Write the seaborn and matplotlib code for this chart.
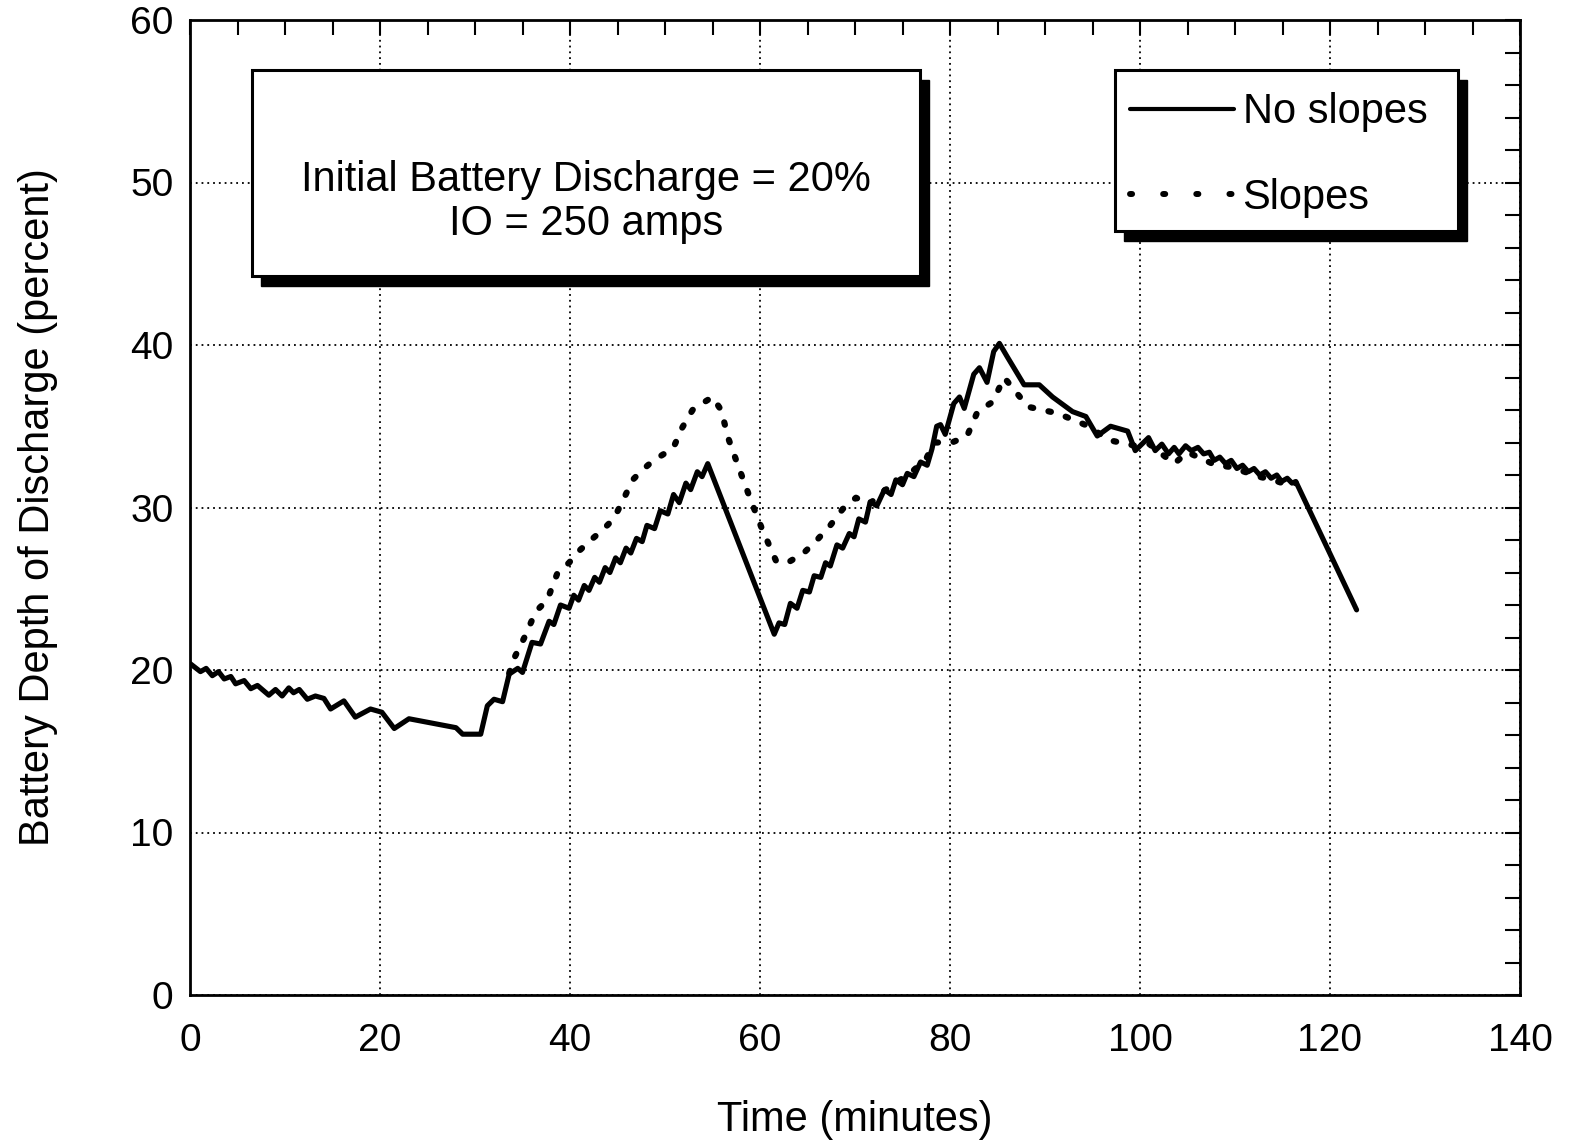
import numpy as np
import pandas as pd
import matplotlib
matplotlib.use("Agg")
import matplotlib.pyplot as plt
import seaborn as sns
from matplotlib.patches import Rectangle
from matplotlib.ticker import MultipleLocator
from matplotlib.lines import Line2D

# ---------------- data ----------------
no_slopes_t = [0.0, 1.1, 1.7, 2.35, 3.0, 3.6, 4.3, 4.8, 5.7, 6.4, 7.1, 8.3, 9.0, 9.7,
               10.4, 10.9, 11.5, 12.35, 13.2, 14.1, 14.8, 16.2, 17.4, 19.0, 20.2, 21.5,
               23.05, 28.0, 28.7, 30.6, 31.3, 32.0, 32.9, 33.6, 34.5, 35.0, 36.0, 36.9,
               37.8, 38.3, 39.0, 39.9, 40.4, 40.9, 41.5, 42.0, 42.6, 43.1, 43.7, 44.2,
               44.8, 45.3, 45.9, 46.4, 47.0, 47.6, 48.1, 48.9, 49.5, 50.3, 50.9, 51.5,
               52.2, 52.7, 53.4, 53.9, 54.5, 61.5, 62.0, 62.6, 63.2, 63.9, 64.5, 65.2,
               65.7, 66.4, 66.9, 67.4, 68.1, 68.7, 69.4, 69.9, 70.4, 71.1, 71.6, 72.3,
               73.1, 73.8, 74.3, 75.0, 75.5, 76.2, 76.9, 77.6, 78.1, 78.6, 79.0, 79.5,
               80.4, 81.0, 81.5, 82.5, 83.1, 83.9, 84.6, 85.2, 86.0, 87.8, 89.4, 90.8,
               92.9, 94.3, 94.6, 95.5, 96.9, 98.7, 99.5, 100.9, 101.6, 102.3, 103.0,
               103.6, 104.1, 104.8, 105.4, 106.1, 106.7, 107.3, 107.8, 108.4, 109.0,
               109.6, 110.2, 110.8, 111.4, 112.0, 112.6, 113.2, 113.8, 114.4, 114.9,
               115.5, 116.0, 116.4, 122.8]
no_slopes_v = [20.4, 19.9, 20.1, 19.65, 19.9, 19.45, 19.6, 19.15, 19.35, 18.85, 19.05,
               18.45, 18.8, 18.4, 18.9, 18.6, 18.8, 18.2, 18.4, 18.25, 17.6, 18.1, 17.1,
               17.6, 17.4, 16.4, 17.0, 16.45, 16.05, 16.05, 17.8, 18.2, 18.05, 19.75,
               20.1, 19.85, 21.7, 21.6, 23.0, 22.8, 24.0, 23.8, 24.6, 24.3, 25.2, 24.9,
               25.7, 25.4, 26.3, 26.0, 26.9, 26.6, 27.5, 27.2, 28.1, 27.9, 28.9, 28.7,
               29.8, 29.6, 30.8, 30.3, 31.5, 31.1, 32.2, 31.9, 32.7, 22.2, 22.9, 22.8,
               24.1, 23.8, 24.9, 24.8, 25.8, 25.7, 26.6, 26.4, 27.7, 27.5, 28.4, 28.2,
               29.3, 29.1, 30.35, 30.1, 31.1, 30.8, 31.7, 31.4, 32.1, 31.9, 32.8, 32.6,
               33.6, 35.0, 35.1, 34.5, 36.4, 36.8, 36.1, 38.2, 38.6, 37.7, 39.6, 40.1,
               39.3, 37.55, 37.55, 36.8, 35.9, 35.6, 35.3, 34.4, 35.0, 34.7, 33.5, 34.3,
               33.5, 33.9, 33.3, 33.7, 33.3, 33.8, 33.5, 33.7, 33.3, 33.4, 32.9, 33.1,
               32.7, 32.9, 32.4, 32.6, 32.2, 32.4, 32.0, 32.2, 31.8, 32.0, 31.6, 31.8,
               31.5, 31.6, 23.7]

slopes_t = [33.6, 34.1, 35.2, 36.4, 37.6, 38.7, 39.9, 40.9, 42.2, 43.4, 44.6, 45.5,
            46.6, 47.6, 48.8, 49.9, 50.9, 51.8, 52.9, 53.9, 55.0, 55.9, 56.7, 57.8,
            59.0, 60.2, 61.7, 62.9, 64.6, 66.0, 67.4, 68.7, 70.1, 71.5, 73.0, 74.5,
            76.0, 77.5, 78.3, 80.2, 81.8, 82.9, 84.5, 85.7, 88.2, 91.3, 94.6, 96.7,
            99.5, 101.0, 102.5, 103.6, 105.0, 106.5, 108.0, 109.5, 111.0, 112.5,
            114.0, 115.5, 116.4]
slopes_v = [19.8, 20.7, 22.0, 23.6, 24.3, 26.0, 26.6, 27.3, 28.0, 28.6, 29.3, 30.35,
            31.7, 32.3, 32.9, 33.3, 33.7, 34.9, 36.0, 36.4, 36.8, 36.0, 34.2, 32.4,
            30.5, 28.7, 26.7, 26.6, 27.2, 28.0, 28.9, 29.9, 30.6, 30.2, 31.0, 31.6,
            32.2, 33.0, 34.0, 34.0, 34.4, 35.9, 36.5, 38.0, 36.2, 35.8, 35.0, 34.15,
            33.8, 33.9, 33.2, 32.7, 33.4, 33.0, 32.6, 32.5, 32.2, 31.9, 31.7, 31.4,
            31.5]

x_ticks = [0, 20, 40, 60, 80, 100, 120, 140]
y_ticks = [0, 10, 20, 30, 40, 50, 60]
series_labels = ["No slopes", "Slopes"]
box_lines = ["Initial Battery Discharge = 20%", "IO = 250 amps"]

# ---------------- style ----------------
sns.set_theme(style="white")
plt.rcParams["font.family"] = ["Liberation Sans", "DejaVu Sans"]

W, H = 1574, 1148
fig = plt.figure(figsize=(W / 100, H / 100), dpi=100)
ax = fig.add_axes([190 / W, 1 - 995 / H, 1330 / W, 975 / H])

df_ns = pd.DataFrame({"t": no_slopes_t, "v": no_slopes_v})
df_s = pd.DataFrame({"t": slopes_t, "v": slopes_v})

sns.lineplot(data=df_s, x="t", y="v", ax=ax, color="black", lw=4.5,
             estimator=None, sort=False, zorder=3)
dotted = ax.lines[-1]
dotted.set_linestyle((0, (0.4, 2.5)))
dotted.set_dash_capstyle("round")
sns.lineplot(data=df_ns, x="t", y="v", ax=ax, color="black", lw=3.7,
             estimator=None, sort=False, zorder=3)
ax.lines[-1].set_solid_joinstyle("round")

ax.set_xlim(0, 140)
ax.set_ylim(0, 60)
ax.set_xticks(x_ticks)
ax.set_yticks(y_ticks)
ax.xaxis.set_minor_locator(MultipleLocator(5))
ax.yaxis.set_minor_locator(MultipleLocator(2))
ax.tick_params(which="both", direction="in", top=True, right=True,
               length=11, width=1.5, color="black")
ax.tick_params(axis="x", which="major", labelsize=28, pad=20)
ax.tick_params(axis="y", which="major", labelsize=28, pad=12)
for lab in ax.get_xticklabels() + ax.get_yticklabels():
    lab.set_color("black")

ax.grid(True, which="major", color="black", linestyle=(0, (1, 2.2)), lw=1.3)
for s in ax.spines.values():
    s.set_color("black")
    s.set_linewidth(2.0)

ax.set_xlabel("Time (minutes)", fontsize=30, color="black", labelpad=30)
ax.set_ylabel("Battery Depth of Discharge (percent)", fontsize=30, color="black",
              labelpad=52)

# ---------------- annotation box ----------------
def shadow_box(x0, y0, w, h):
    dx, dy = 9 / 1330, 10 / 975
    ax.add_patch(Rectangle((x0 + dx, y0 - dy), w, h, transform=ax.transAxes,
                           facecolor="black", edgecolor="black", zorder=5))
    ax.add_patch(Rectangle((x0, y0), w, h, transform=ax.transAxes,
                           facecolor="white", edgecolor="black", lw=2.2, zorder=6))

shadow_box(0.0466, 0.7374, 0.5023, 0.2113)
ax.text(0.2977, 0.836, box_lines[0], transform=ax.transAxes, ha="center",
        va="center", fontsize=30, zorder=7, color="black")
ax.text(0.2977, 0.791, box_lines[1], transform=ax.transAxes, ha="center",
        va="center", fontsize=30, zorder=7, color="black")

# ---------------- legend ----------------
shadow_box(0.6955, 0.7836, 0.2579, 0.1651)
handles = [Line2D([], [], color="black", lw=3.0),
           Line2D([], [], color="black", lw=4.3, linestyle=(0, (0.35, 5.2)),
                  dash_capstyle="round")]
leg = ax.legend(handles, series_labels, loc="upper left",
                bbox_to_anchor=(0.7068, 0.926), frameon=False, fontsize=30,
                handlelength=2.5, handletextpad=0.2, labelspacing=1.1,
                borderpad=0, borderaxespad=0)
leg.set_zorder(8)
for t in leg.get_texts():
    t.set_color("black")

fig.savefig("out.png", dpi=100, facecolor="white")
